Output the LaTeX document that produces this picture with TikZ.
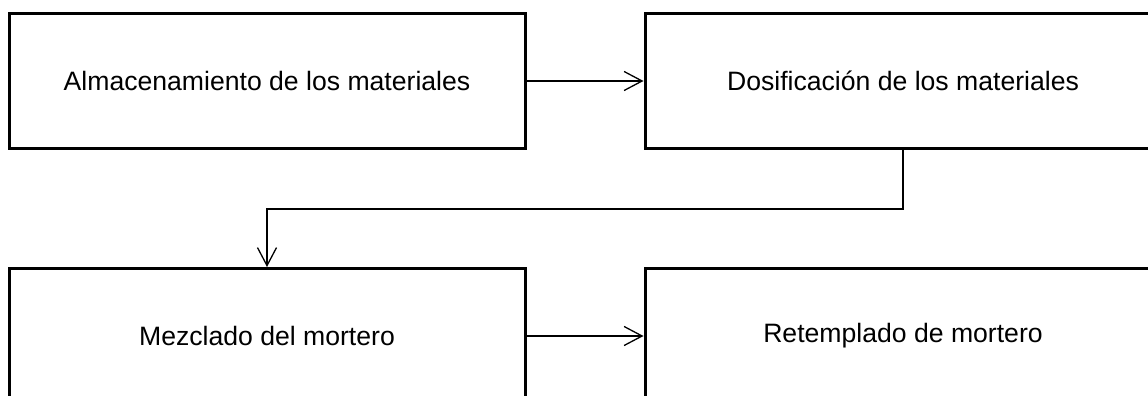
\documentclass[tikz,border=0pt]{standalone}
\usepackage{fontspec}
\setmainfont{Liberation Sans}
\usetikzlibrary{arrows.meta}
\begin{document}
\begin{tikzpicture}[x=1pt,y=-1pt,
  stepbox/.style={draw=black,line width=3pt,rectangle,minimum width=516pt,minimum height=135pt,inner sep=0pt,font=\fontsize{26.6pt}{30pt}\selectfont},
  arr/.style={draw=black,line width=1.3pt,-{Straight Barb[length=18pt,width=19pt,line width=1.3pt]}}]
\useasboundingbox (0,0) rectangle (1148,396);
\clip (0,0) rectangle (1148,396);
\node[stepbox] (alm) at (267,81) {Almacenamiento de los materiales};
\node[stepbox] (dos) at (903,81) {Dosificación de los materiales};
\node[stepbox] (mez) at (267,336) {Mezclado del mortero};
\node[stepbox] (ret) at (903,336) {Retemplado de mortero};
\draw[arr] (alm.east) -- (dos.west);
\draw[arr] (mez.east) -- (ret.west);
\draw[arr] (dos.south) -- ++(0,59) -| (mez.north);
\end{tikzpicture}
\end{document}
